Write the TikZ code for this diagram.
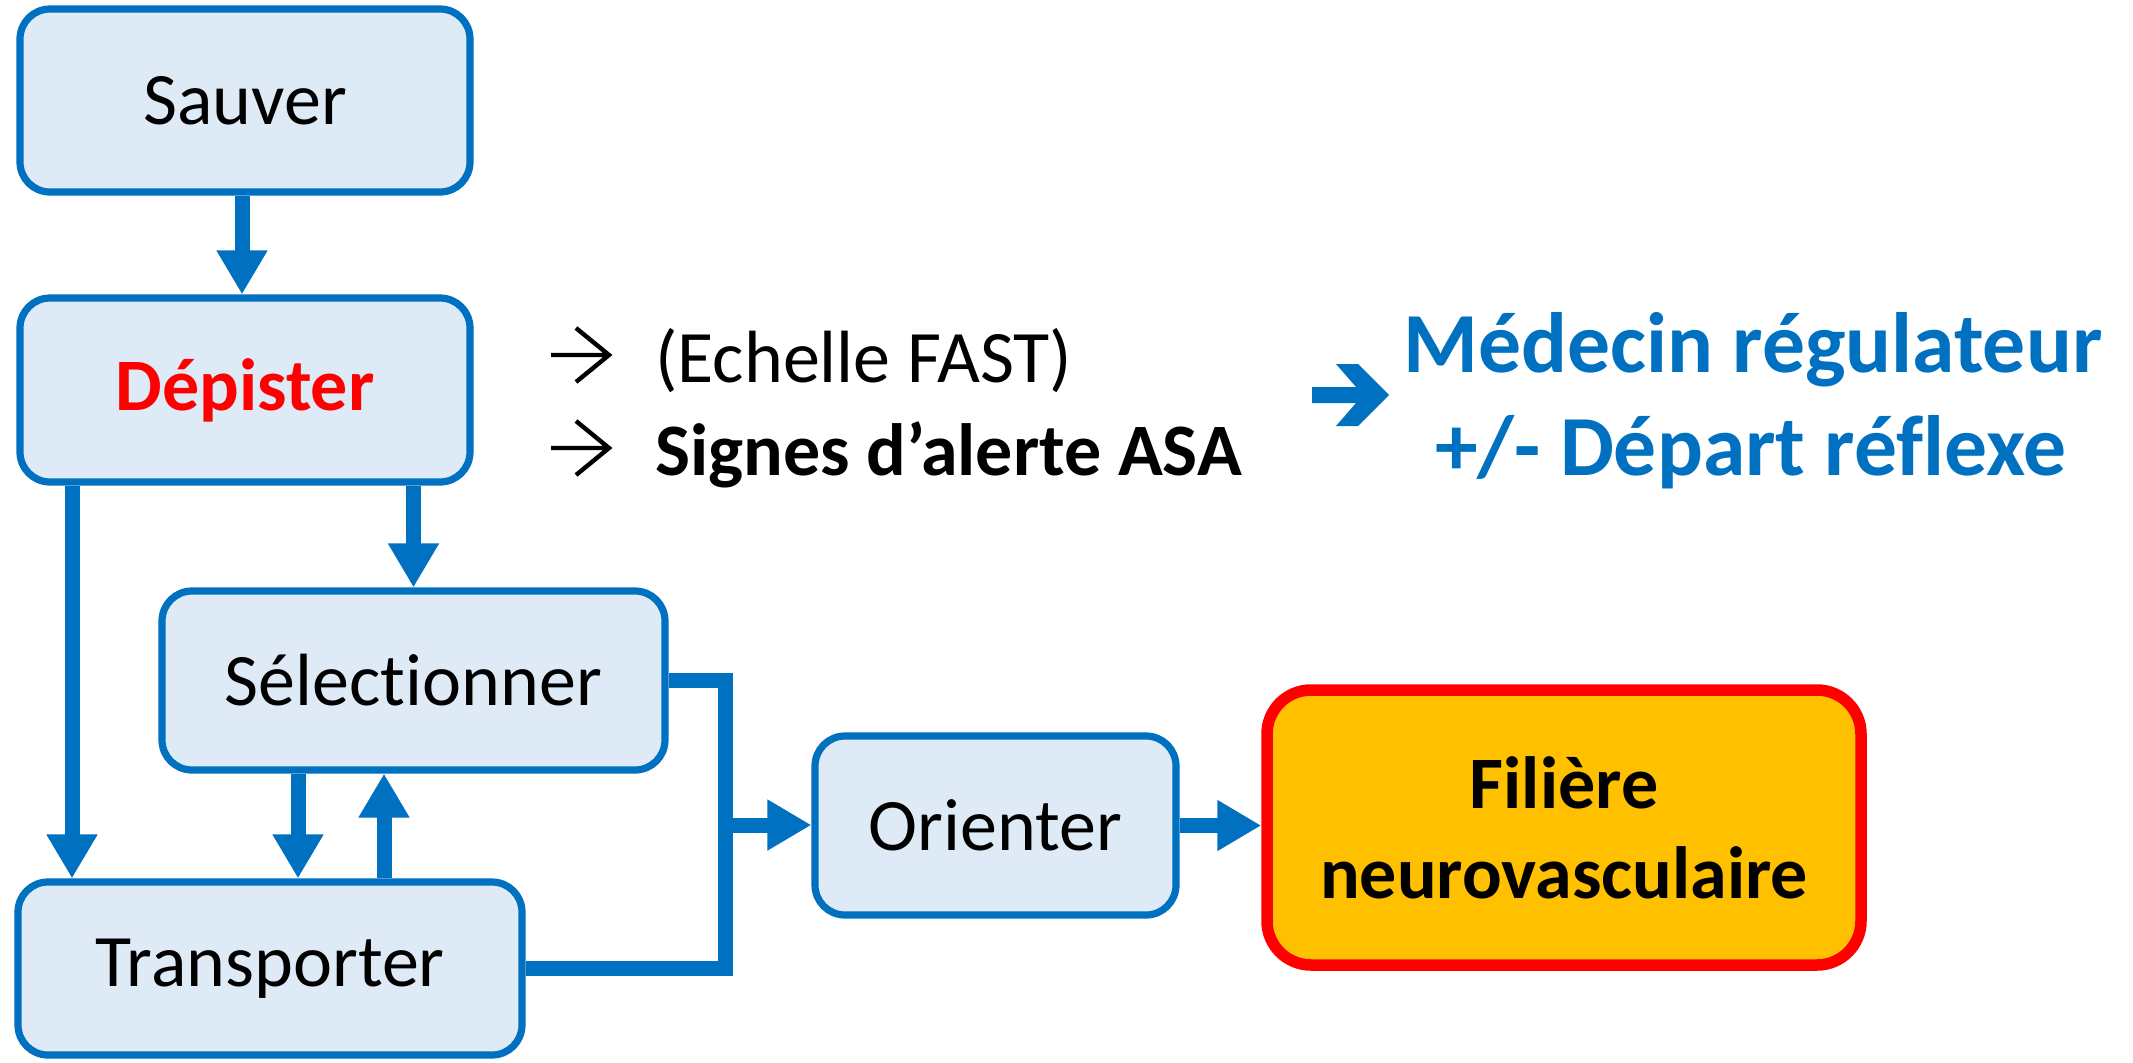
\documentclass[tikz,border=0pt]{standalone}
\usepackage{fontspec}
\setmainfont{Carlito}[Ligatures=NoCommon]
\usetikzlibrary{arrows.meta}
\definecolor{flowblue}{HTML}{0070C0}
\definecolor{boxfill}{HTML}{DEEBF7}
\definecolor{alertred}{HTML}{FF0000}
\definecolor{amber}{HTML}{FFC000}

\begin{document}
\begin{tikzpicture}[x=0.5pt,y=-0.5pt,
  stage/.style={draw=flowblue, line width=3.6pt, fill=boxfill, rounded corners=15pt,
    inner sep=0pt, font=\fontsize{37}{45}\selectfont},
  link/.style={draw=flowblue, line width=7.5pt, line join=miter},
  flow/.style={link, -{Triangle[width=24pt,length=22pt]}},
  pointer/.style={draw=black, line width=2.2pt, line join=miter},
  sidetext/.style={anchor=base west, inner sep=0pt, font=\fontsize{37}{45}\selectfont},
  calltext/.style={anchor=base, inner sep=0pt, text=flowblue, font=\fontsize{42.8}{51}\selectfont\bfseries}
]
% page frame
\fill[white] (0,0) rectangle (2133,1062);
\useasboundingbox (0,0) rectangle (2133,1062);

% stages of the chain
\node[stage, minimum width=225pt, minimum height=91.5pt] (sauver) at (245,100.5) {Sauver};
\node[stage, minimum width=225pt, minimum height=92pt, text=alertred,
      font=\fontsize{37}{45}\selectfont\bfseries] (depister) at (245,390) {Dépister};
\node[stage, minimum width=251.5pt, minimum height=89.5pt] (select) at (413.5,680.5) {Sélectionner};
\node[stage, minimum width=252pt, minimum height=86.5pt] (transp) at (270,968.5) {Transporter};
\node[stage, minimum width=180.5pt, minimum height=89.5pt] (orient) at (995.5,825.5) {Orienter};
\node[draw=alertred, line width=5.75pt, fill=amber, rounded corners=22pt, inner sep=0pt,
      minimum width=297pt, minimum height=137.5pt, align=center,
      font=\fontsize{37}{45}\selectfont\bfseries] (filiere) at (1564,827.5) {Filière\\neurovasculaire};

% columns and junction used by the connectors
\coordinate (colA) at (72,0);
\coordinate (colB) at (298,0);
\coordinate (colC) at (384,0);
\coordinate (jn) at (725,825);

% connectors
\draw[flow] ([xshift=-1.5pt]sauver.south) -- ([xshift=-1.5pt]depister.north);
\draw[flow] (depister.south -| colA) -- (transp.north -| colA);
\draw[flow] (depister.south -| select.north) -- (select.north);
\draw[flow] (select.south -| colB) -- (transp.north -| colB);
\draw[flow] (transp.north -| colC) -- (select.south -| colC);
\draw[link] (select.east) -| (jn) |- (transp.east);
\draw[flow] (jn) -- (jn -| orient.west);
\draw[flow] (orient.east) -- (orient.east -| filiere.west);

% screening notes
\draw[pointer] (551,355) -- (609,355) (576,328) -- (609,355) -- (576,382);
\draw[pointer] (551,448) -- (609,448) (576,421) -- (609,448) -- (576,475);
\node[sidetext] (fast) at (655,382) {(Echelle FAST)};
\node[sidetext, font=\fontsize{37}{45}\selectfont\bfseries] (asa) at (655,475) {Signes d’alerte ASA};

% call to the regulating physician
\fill[flowblue] (1312,387) -- (1356,387) -- (1336,364) -- (1358,364) -- (1389,395)
  -- (1358,426) -- (1336,426) -- (1356,403) -- (1312,403) -- cycle;
\node[calltext] (regul) at (1753,372) {Médecin régulateur};
\node[calltext] (reflexe) at (1751,475) {+/- Départ réflexe};
\end{tikzpicture}
\end{document}
